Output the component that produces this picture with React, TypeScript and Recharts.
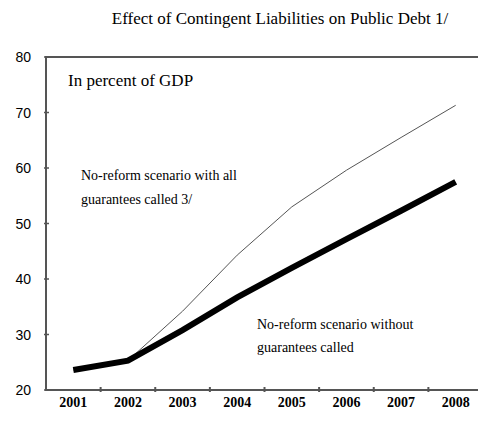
import { Line, LineChart, XAxis, YAxis } from 'recharts';

const years = ['2001', '2002', '2003', '2004', '2005', '2006', '2007', '2008'];
const withoutGuarantees = [23.6, 25.3, 30.8, 36.7, 42.0, 47.2, 52.3, 57.5];
const allGuaranteesCalled = [23.6, 25.3, 34.2, 44.3, 53.0, 59.6, 65.5, 71.3];
const yTicks = [20, 30, 40, 50, 60, 70, 80];

const data = years.map((year, i) => ({
  year,
  base: withoutGuarantees[i],
  called: allGuaranteesCalled[i],
}));

const SERIF = 'Liberation Serif, Times New Roman, serif';
const FRAME = '#555';
const PLOT = { left: 46, top: 57, width: 437, height: 333 };
const HALF_BAND = PLOT.width / 8 / 2;

function YearTick(props: any) {
  const { x, y, payload, index } = props;
  return (
    <g>
      {index > 0 && <path d={`M${x - HALF_BAND},${y}v-5`} stroke={FRAME} strokeWidth={2} fill="none" />}
      <text x={x} y={y + 15} textAnchor="middle" fontFamily={SERIF} fontSize={14} fontWeight="bold" fill="#000">
        {payload.value}
      </text>
    </g>
  );
}

function ValueTick(props: any) {
  const { x, y, payload } = props;
  return (
    <g>
      <path d={`M${x},${y}h5`} stroke={FRAME} strokeWidth={1.5} fill="none" />
      <text x={x - 13} y={y + 5} textAnchor="end" fontFamily="Liberation Sans, Arial, sans-serif" fontSize={14} fill="#000">
        {payload.value}
      </text>
    </g>
  );
}

export default function App() {
  return (
    <div style={{ margin: -8, width: 486, height: 423 }}>
      <LineChart width={486} height={423} data={data} margin={{ top: PLOT.top, right: 0, bottom: 0, left: 0 }}>
        <XAxis
          dataKey="year"
          height={33}
          padding={{ left: HALF_BAND, right: HALF_BAND }}
          stroke={FRAME}
          strokeWidth={2}
          tickLine={false}
          tickSize={0}
          tick={<YearTick />}
          interval={0}
        />
        <YAxis
          width={PLOT.left}
          domain={[20, 80]}
          ticks={yTicks}
          interval={0}
          stroke={FRAME}
          strokeWidth={2}
          tickLine={false}
          tickSize={0}
          tick={<ValueTick />}
        />
        <YAxis yAxisId="frame" orientation="right" width={3} domain={[20, 80]} stroke={FRAME} strokeWidth={2} tick={false} tickLine={false} />
        <rect x={PLOT.left} y={PLOT.top} width={PLOT.width} height={PLOT.height} fill="none" stroke={FRAME} strokeWidth={2} />
        <Line dataKey="called" type="linear" stroke="#555" strokeWidth={1} dot={false} isAnimationActive={false} />
        <Line dataKey="base" type="linear" stroke="#000" strokeWidth={6} dot={false} isAnimationActive={false} />
        <text x={280} y={24} textAnchor="middle" fontFamily={SERIF} fontSize={17} fill="#000">
          Effect of Contingent Liabilities on Public Debt 1/
        </text>
        <text x={68} y={86} fontFamily={SERIF} fontSize={17} fill="#000">
          In percent of GDP
        </text>
        <text fontFamily={SERIF} fontSize={14} fill="#000">
          <tspan x={81} y={180}>No-reform scenario with all</tspan>
          <tspan x={81} y={204}>guarantees called 3/</tspan>
        </text>
        <text fontFamily={SERIF} fontSize={14} fill="#000">
          <tspan x={257} y={329}>No-reform scenario without</tspan>
          <tspan x={257} y={352}>guarantees called</tspan>
        </text>
      </LineChart>
    </div>
  );
}
